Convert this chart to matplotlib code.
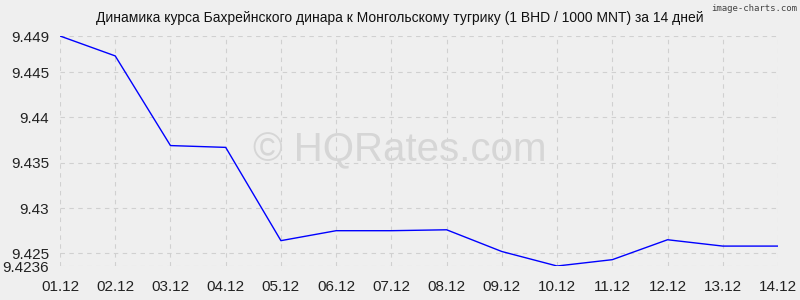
import matplotlib
matplotlib.use('Agg')
import matplotlib.pyplot as plt

dates = ['01.12', '02.12', '03.12', '04.12', '05.12', '06.12', '07.12',
         '08.12', '09.12', '10.12', '11.12', '12.12', '13.12', '14.12']
rates = [9.4490, 9.4468, 9.4369, 9.4367, 9.4264, 9.4275, 9.4275,
         9.4276, 9.4252, 9.4236, 9.4243, 9.4265, 9.4258, 9.4258]
yticks = [9.4236, 9.425, 9.43, 9.435, 9.44, 9.445, 9.449]
ylabels = ['9.4236', '9.425', '9.43', '9.435', '9.44', '9.445', '9.449']

plt.rcParams['font.family'] = ['Liberation Sans', 'DejaVu Sans']
bg = '#efefef'
fig = plt.figure(figsize=(8, 3), dpi=100, facecolor=bg)
ax = fig.add_axes([0.075, 0.1133, 0.8975, 0.7667], facecolor=bg)

x = list(range(len(dates)))
ax.plot(x, rates, color='#0000ff', lw=1, zorder=3)

ax.set_xlim(0, len(dates) - 1)
ax.set_ylim(yticks[0], yticks[-1])
ax.set_xticks(x)
ax.set_xticklabels(dates)
ax.set_yticks(yticks)
ax.set_yticklabels(ylabels)
ax.tick_params(length=0, labelsize=11, colors='#222222')
ax.tick_params(axis='y', pad=8)
ax.tick_params(axis='x', pad=10)
for s in ax.spines.values():
    s.set_visible(False)
ax.grid(True, color='#d0d0d0', ls=(0, (4, 4)), lw=0.8)

fig.text(0.5, 0.94, 'Динамика курса Бахрейнского динара к Монгольскому тугрику (1 BHD / 1000 MNT) за 14 дней',
         ha='center', va='center', fontsize=10, color='#111111')
fig.text(0.996, 0.972, 'image-charts.com', ha='right', va='center', fontsize=6.5,
         color='#444444', family='DejaVu Sans Mono')
fig.text(0.5, 0.5, '© HQRates.com', ha='center', va='center', fontsize=29,
         color='#d6d6d6', zorder=0)

fig.savefig('out.png', dpi=100, facecolor=bg)
